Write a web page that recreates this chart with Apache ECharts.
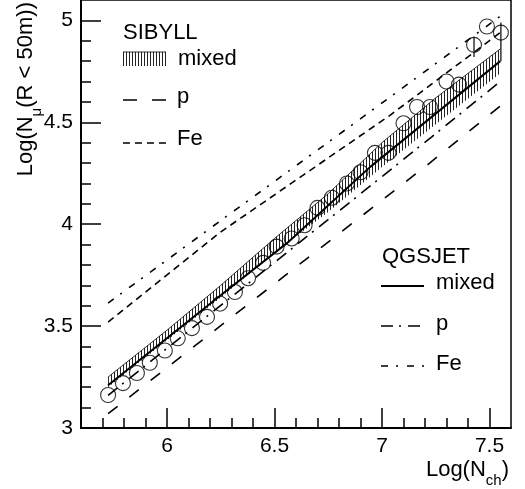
<!DOCTYPE html>
<html>
<head>
<meta charset="utf-8">
<script src="https://cdn.jsdelivr.net/npm/echarts@6/dist/echarts.min.js"></script>
<style>
  html, body { margin: 0; background: #fff; }
  #chart { width: 525px; height: 489px; }
</style>
</head>
<body>
<div id="chart"></div>
<script>
// axis ticks
const xMajor = [6, 6.5, 7, 7.5]
const yMajor = [3, 3.5, 4, 4.5, 5]

// data points (open circles)
const dataX = [5.726, 5.795, 5.86, 5.92, 5.99, 6.05, 6.116, 6.186, 6.247, 6.316, 6.377, 6.447, 6.51, 6.58, 6.64,
  6.70, 6.767, 6.837, 6.90, 6.967, 7.03, 7.10, 7.163, 7.223, 7.30, 7.358, 7.428, 7.488, 7.553]
const dataY = [3.162, 3.22, 3.27, 3.32, 3.38, 3.44, 3.49, 3.545, 3.61, 3.667, 3.735, 3.81, 3.89, 3.93, 3.995,
  4.08, 4.13, 4.20, 4.255, 4.35, 4.35, 4.495, 4.575, 4.575, 4.70, 4.685, 4.88, 4.97, 4.94]

// error bars on the last points
const errX = [7.428, 7.553]
const errLo = [4.82, 4.80]
const errHi = [4.92, 4.99]

// SIBYLL mixed band (hatched)
const bandX = [5.726, 6.0, 6.25, 6.5, 6.75, 7.0, 7.25, 7.55]
const bandLo = [3.20, 3.43, 3.64, 3.86, 4.06, 4.28, 4.49, 4.74]
const bandHi = [3.25, 3.48, 3.70, 3.93, 4.15, 4.40, 4.62, 4.86]

// SIBYLL p / Fe
const sibPX = [5.726, 6.326, 7.21, 7.55]
const sibPY = [3.07, 3.565, 4.29, 4.58]
const sibFeX = [5.726, 6.247, 7.037, 7.55]
const sibFeY = [3.52, 3.96, 4.534, 4.94]

// QGSJET mixed / p / Fe
const qgsMixX = [5.726, 6.26, 6.558, 6.944, 7.55]
const qgsMixY = [3.21, 3.66, 3.907, 4.28, 4.80]
const qgsPX = [5.726, 7.233, 7.55]
const qgsPY = [3.16, 4.43, 4.70]
const qgsFeX = [5.726, 6.284, 6.884, 7.55]
const qgsFeY = [3.613, 4.044, 4.505, 5.02]

const FONT = 'Liberation Sans, Arial, Helvetica, sans-serif'

// vertical hatch pattern
const hatch = document.createElement('canvas')
hatch.width = 3
hatch.height = 4
const hctx = hatch.getContext('2d')
hctx.fillStyle = '#222'
hctx.fillRect(0, 0, 1, 4)

function pairs(xs, ys) {
  return xs.map((x, i) => [x, ys[i]])
}

function minorList(from, to) {
  const out = []
  for (let v = Math.round(from * 10); v <= Math.round(to * 10); v++) out.push(v / 10)
  return out
}

function lineSeries(xs, ys, dash, width) {
  return {
    type: 'line',
    data: pairs(xs, ys),
    showSymbol: false,
    silent: true,
    z: 3,
    lineStyle: { color: '#000', width: width || 1.6, type: dash }
  }
}

const chart = echarts.init(document.getElementById('chart'))

const axisText = { color: '#000', fontSize: 21, fontFamily: FONT }

const option = {
  animation: false,
  grid: {
    left: 81, right: 14, top: -1, bottom: 61,
    show: true, borderColor: '#000', borderWidth: 1.5, backgroundColor: 'transparent'
  },
  xAxis: [
    {
      type: 'value', min: 5.6, max: 7.6,
      axisLine: { lineStyle: { color: '#000', width: 2 } },
      axisTick: { inside: true, length: 20, customValues: xMajor, lineStyle: { color: '#000', width: 1.5 } },
      axisLabel: { ...axisText, margin: 8, customValues: xMajor },
      splitLine: { show: false }
    },
    {
      type: 'value', min: 5.6, max: 7.6, position: 'bottom',
      axisLine: { show: false },
      axisTick: { inside: true, length: 10, customValues: minorList(5.7, 7.5), lineStyle: { color: '#000', width: 1.5 } },
      axisLabel: { show: false },
      splitLine: { show: false }
    }
  ],
  yAxis: [
    {
      type: 'value', min: 3, max: 5.1,
      axisLine: { show: true, lineStyle: { color: '#000', width: 2 } },
      axisTick: { show: true, inside: true, length: 20, customValues: yMajor, lineStyle: { color: '#000', width: 1.5 } },
      axisLabel: { ...axisText, margin: 8, customValues: yMajor },
      splitLine: { show: false }
    },
    {
      type: 'value', min: 3, max: 5.1, position: 'left',
      axisLine: { show: false },
      axisTick: { show: true, inside: true, length: 10, customValues: minorList(3.1, 5.0), lineStyle: { color: '#000', width: 1.5 } },
      axisLabel: { show: false },
      splitLine: { show: false }
    }
  ],
  series: [
    {
      type: 'custom',
      silent: true,
      z: 1,
      data: [[bandX[0], bandLo[0]]],
      renderItem: function (params, api) {
        const pts = []
        for (let i = 0; i < bandX.length; i++) pts.push(api.coord([bandX[i], bandHi[i]]))
        for (let i = bandX.length - 1; i >= 0; i--) pts.push(api.coord([bandX[i], bandLo[i]]))
        const top = []
        for (let i = 0; i < bandX.length; i++) top.push(api.coord([bandX[i], bandHi[i]]))
        return {
          type: 'group',
          children: [
            { type: 'polygon', shape: { points: pts }, style: { fill: { image: hatch, repeat: 'repeat' } } },
            { type: 'polyline', shape: { points: top }, style: { stroke: '#000', lineWidth: 0.8, fill: null } }
          ]
        }
      }
    },
    lineSeries(sibPX, sibPY, [12, 15]),
    lineSeries(sibFeX, sibFeY, [7, 5]),
    lineSeries(qgsMixX, qgsMixY, 'solid', 2),
    lineSeries(qgsPX, qgsPY, [12, 6, 2, 7]),
    lineSeries(qgsFeX, qgsFeY, [7, 8, 2, 9]),
    {
      type: 'custom',
      silent: true,
      z: 4,
      data: errX.map((x, i) => [x, errLo[i], errHi[i]]),
      renderItem: function (params, api) {
        const a = api.coord([api.value(0), api.value(1)])
        const b = api.coord([api.value(0), api.value(2)])
        return {
          type: 'line',
          shape: { x1: a[0], y1: a[1], x2: b[0], y2: b[1] },
          style: { stroke: '#000', lineWidth: 1.2 }
        }
      }
    },
    {
      type: 'scatter',
      silent: true,
      z: 5,
      data: pairs(dataX, dataY),
      symbol: 'circle',
      symbolSize: 15,
      itemStyle: { color: 'transparent', borderColor: '#000', borderWidth: 1.1 }
    }
  ],
  graphic: [
    // axis titles
    {
      type: 'text', x: 26, y: 2, rotation: Math.PI / 2,
      style: {
        text: '{m|Log(N}{s|μ}{m|(R < 50m))}',
        align: 'right', verticalAlign: 'middle',
        rich: {
          m: { fontSize: 22, fontFamily: FONT, color: '#000', lineHeight: 22 },
          s: { fontSize: 15, fontFamily: FONT, color: '#000', lineHeight: 36, verticalAlign: 'bottom' }
        }
      }
    },
    {
      type: 'text', x: 509, y: 470,
      style: {
        text: '{m|Log(N}{s|ch}{m|)}',
        align: 'right', verticalAlign: 'middle',
        rich: {
          m: { fontSize: 22, fontFamily: FONT, color: '#000', lineHeight: 22 },
          s: { fontSize: 15, fontFamily: FONT, color: '#000', lineHeight: 36, verticalAlign: 'bottom' }
        }
      }
    },
    // SIBYLL legend
    { type: 'text', x: 123, y: 33, style: { text: 'SIBYLL', fontSize: 22, fontFamily: FONT, fill: '#000', verticalAlign: 'middle' } },
    { type: 'rect', shape: { x: 123, y: 52, width: 43, height: 14 }, style: { fill: { image: hatch, repeat: 'repeat' } } },
    { type: 'line', shape: { x1: 123, y1: 52, x2: 166, y2: 52 }, style: { stroke: '#000', lineWidth: 0.8 } },
    { type: 'text', x: 178, y: 59, style: { text: 'mixed', fontSize: 22, fontFamily: FONT, fill: '#000', verticalAlign: 'middle' } },
    { type: 'line', shape: { x1: 123, y1: 100, x2: 166, y2: 100 }, style: { stroke: '#000', lineWidth: 1.6, lineDash: [14, 15] } },
    { type: 'text', x: 177, y: 97, style: { text: 'p', fontSize: 22, fontFamily: FONT, fill: '#000', verticalAlign: 'middle' } },
    { type: 'line', shape: { x1: 123, y1: 143, x2: 166, y2: 143 }, style: { stroke: '#000', lineWidth: 1.6, lineDash: [7, 5] } },
    { type: 'text', x: 177, y: 139, style: { text: 'Fe', fontSize: 22, fontFamily: FONT, fill: '#000', verticalAlign: 'middle' } },
    // QGSJET legend
    { type: 'text', x: 382, y: 257, style: { text: 'QGSJET', fontSize: 22, fontFamily: FONT, fill: '#000', verticalAlign: 'middle' } },
    { type: 'line', shape: { x1: 381, y1: 286, x2: 424, y2: 286 }, style: { stroke: '#000', lineWidth: 2 } },
    { type: 'text', x: 436, y: 283, style: { text: 'mixed', fontSize: 22, fontFamily: FONT, fill: '#000', verticalAlign: 'middle' } },
    { type: 'line', shape: { x1: 381, y1: 326, x2: 423, y2: 326 }, style: { stroke: '#000', lineWidth: 1.6, lineDash: [12, 6, 2, 7] } },
    { type: 'text', x: 436, y: 324, style: { text: 'p', fontSize: 22, fontFamily: FONT, fill: '#000', verticalAlign: 'middle' } },
    { type: 'line', shape: { x1: 381, y1: 366, x2: 425, y2: 366 }, style: { stroke: '#000', lineWidth: 1.6, lineDash: [7, 8, 2, 9] } },
    { type: 'text', x: 436, y: 364, style: { text: 'Fe', fontSize: 22, fontFamily: FONT, fill: '#000', verticalAlign: 'middle' } }
  ]
}

chart.setOption(option)
</script>
</body>
</html>
